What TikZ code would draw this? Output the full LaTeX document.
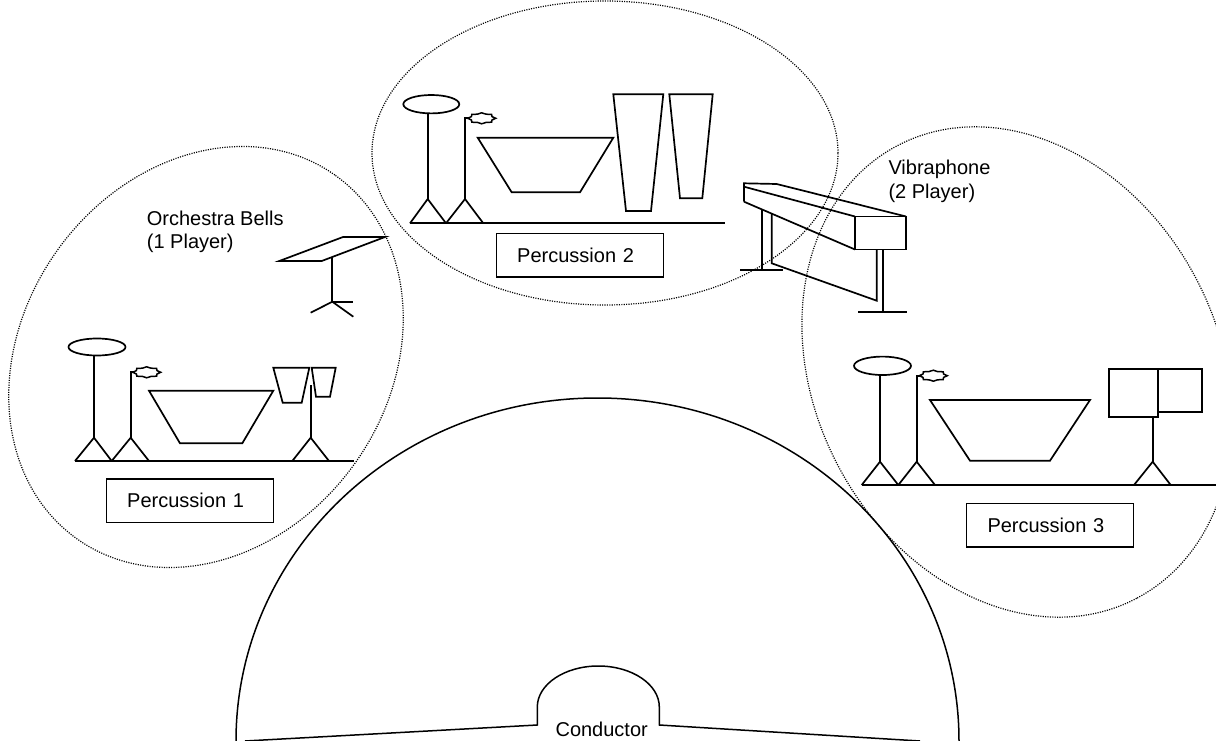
\documentclass[tikz,border=0pt]{standalone}
\usepackage{fontspec}
\setmainfont{Liberation Sans}
\begin{document}
\begin{tikzpicture}[x=1pt,y=-1pt,
  inst/.style={line width=1.7pt, line join=miter},
  arch/.style={line width=1.5pt},
  zone/.style={line width=1.2pt, dash pattern=on 1.1pt off 1.3pt},
  lbl/.style={font=\fontsize{20}{23}\selectfont, inner sep=0pt},
  pbox/.style={draw, line width=1.4pt, font=\fontsize{20}{23}\selectfont, minimum height=43.3pt, text width=125pt, inner xsep=21pt, inner ysep=0pt, align=left},
  gear/.pic={\draw[line width=1.5pt] (14,0) -- (10.3,1.7) -- (9.9,3.9) -- (4.3,4.1) -- (0,5.5) -- (-4.3,4.1) -- (-9.9,3.9) -- (-10.3,1.7) -- (-14,0) -- (-10.3,-1.7) -- (-9.9,-3.9) -- (-4.3,-4.1) -- (0,-5.5) -- (4.3,-4.1) -- (9.9,-3.9) -- (10.3,-1.7) -- cycle;}
]
\useasboundingbox (0,0) rectangle (1216,741);
\fill[white] (0,0) rectangle (1216,741);
\clip (0,0) rectangle (1216,741);

% zones
\draw[zone] (206,357) ellipse[x radius=223pt, y radius=183pt, rotate=54.7];
\draw[zone] (605,153) ellipse[x radius=233pt, y radius=152pt];
\draw[zone] (1017,372) ellipse[x radius=256pt, y radius=202pt, rotate=-62];

% conductor area
\draw[arch] (236,741) arc[start angle=180, end angle=0, x radius=361.5pt, y radius=343pt];
\draw[arch] (245,741) -- (537.3,725) -- (537.3,707) arc[start angle=180, end angle=0, x radius=61pt, y radius=41pt] -- (659.3,725) -- (920,741);
\node[lbl, anchor=base] (cond) at (601.7,736) {Conductor};

% Percussion 1
\draw[inst] (75,461) -- (354,461);
\draw[inst] (97,347) ellipse[x radius=28.5pt, y radius=8.5pt];
\draw[inst] (94,355.5) -- (94,437.7);
\draw[inst] (75,461) -- (94,437.7) -- (111.7,461);
\draw[inst] (133,372.3) -- (130.7,372.3) -- (130.7,437.7);
\draw[inst] (111.7,461) -- (130.7,437.7) -- (149,461);
\pic at (146.7,372.3) {gear};
\draw[inst] (149,390.7) -- (273.3,390.7) -- (242.3,443.3) -- (180,443.3) -- cycle;
\draw[inst] (273.3,367.7) -- (309.3,367.7) -- (301.7,402.7) -- (282.7,402.7) -- cycle;
\draw[inst] (311.7,367.7) -- (335.7,367.7) -- (330,396.7) -- (316,396.7) -- cycle;
\draw[inst] (310.7,385) -- (310.7,437.7);
\draw[inst] (292.3,461) -- (310.7,437.7) -- (329,461);
\node[pbox] (p1) at (189.7,500.7) {Percussion 1};

% Orchestra bells
\node[lbl, anchor=base west] (ob1) at (146.7,225) {Orchestra Bells};
\node[lbl, anchor=base west] (ob2) at (146.7,248) {(1 Player)};
\draw[inst] (279.3,261) -- (321.7,261) -- (385,237) -- (343,237) -- cycle;
\draw[inst] (332.3,257) -- (332.3,301.7) -- (353.3,301.7);
\draw[inst] (353.3,316.7) -- (332.3,301.7) -- (310.7,312.7);

% Percussion 2
\draw[inst] (410,223.3) -- (725,223.3);
\draw[inst] (431.3,104.2) ellipse[x radius=28pt, y radius=9.2pt];
\draw[inst] (427.7,113.4) -- (427.7,199);
\draw[inst] (410,223.3) -- (427.7,199) -- (446,223.3);
\draw[inst] (468,118.3) -- (465,118.3) -- (465,199);
\draw[inst] (446,223.3) -- (465,199) -- (483.3,223.3);
\pic at (481.7,118.3) {gear};
\draw[inst] (477.7,137.7) -- (613.3,137.7) -- (580,192.3) -- (511.7,192.3) -- cycle;
\draw[inst] (613.3,94.3) -- (663.3,94.3) -- (651,211) -- (626,211) -- cycle;
\draw[inst] (669.3,94.3) -- (712.7,94.3) -- (702.3,198.3) -- (680,198.3) -- cycle;
\node[pbox] (p2) at (579.7,255.3) {Percussion 2};

% Vibraphone
\node[lbl, anchor=base west] (vb1) at (888.3,175) {Vibraphone};
\node[lbl, anchor=base west] (vb2) at (888.3,198.3) {(2 Player)};
\draw[inst] (744,201.7) -- (744,183.3) -- (776.7,184) -- (906,216.5);
\draw[inst] (744,186.7) -- (855,216.5);
\draw[inst] (744,201.7) -- (855,249.5);
\draw[inst] (855,216.5) rectangle (906,249.5);
\draw[inst] (761.7,209) -- (761.7,270);
\draw[inst] (740,270) -- (783.3,270);
\draw[inst] (771.7,213.6) -- (771.7,263.3) -- (876.7,300.7) -- (876.7,249.5);
\draw[inst] (883,249.5) -- (883,311.7);
\draw[inst] (858,311.7) -- (907,311.7);

% Percussion 3
\draw[inst] (861.7,485) -- (1216,485);
\draw[inst] (882.5,365.8) ellipse[x radius=28.5pt, y radius=9.2pt];
\draw[inst] (880,375) -- (880,461.7);
\draw[inst] (861.7,485) -- (880,461.7) -- (898.3,485);
\draw[inst] (920,375.7) -- (916.7,375.7) -- (916.7,461.7);
\draw[inst] (898.3,485) -- (916.7,461.7) -- (935,485);
\pic at (933.3,375.7) {gear};
\draw[inst] (930,400) -- (1090,400) -- (1050,460.7) -- (970,460.7) -- cycle;
\draw[inst] (1109,369) rectangle (1158.3,417.3);
\draw[inst] (1158.3,369) rectangle (1201.7,411.7);
\draw[inst] (1152.7,417.3) -- (1152.7,461.7);
\draw[inst] (1134,485) -- (1152.7,461.7) -- (1170.7,485);
\node[pbox] (p3) at (1050,525.3) {Percussion 3};
\end{tikzpicture}
\end{document}
